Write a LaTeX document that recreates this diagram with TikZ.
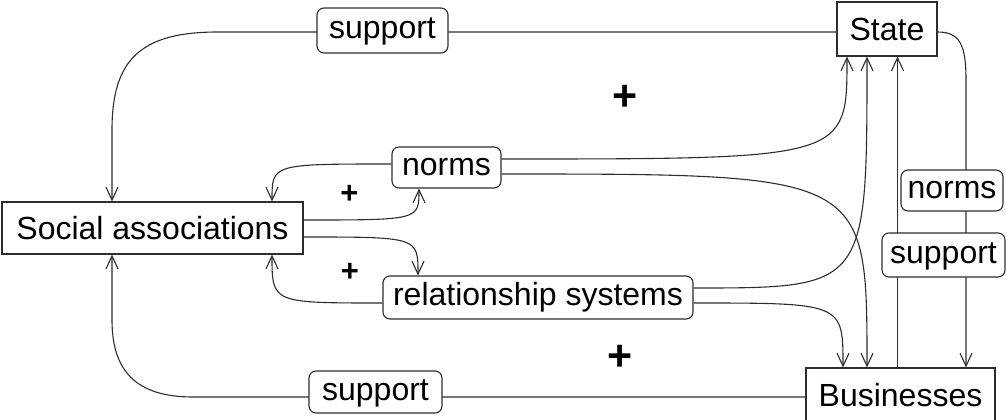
\documentclass[tikz,border=0pt]{standalone}
\usepackage{fontspec}
\setmainfont{Liberation Sans}
\usetikzlibrary{arrows.meta,backgrounds}

\definecolor{linec}{RGB}{45,45,45}

\tikzset{
  actor/.style={draw=linec, line width=1.1pt, fill=white, inner sep=0pt,
    font=\fontsize{32}{38}\selectfont, text height=23pt, text depth=0pt},
  flowlabel/.style={draw=linec, line width=1.1pt, fill=white, inner sep=0pt,
    rounded corners=7pt, font=\fontsize{32}{38}\selectfont,
    text height=16.6pt, text depth=0pt},
  sign/.style={inner sep=0pt, font=\fontsize{#1}{#1}\selectfont\bfseries},
  link/.style={draw=linec, line width=1.1pt},
  >={Straight Barb[length=13pt,width=12pt]}
}

\begin{document}
\begin{tikzpicture}[x=1pt,y=-1pt]
\useasboundingbox (0,0) rectangle (1006,420);

% actors
\node[actor, minimum width=100pt, minimum height=54pt] (state) at (887,29) {State};
\node[actor, minimum width=189pt, minimum height=54pt] (biz) at (900.5,395) {Businesses};
\node[actor, minimum width=301pt, minimum height=52pt] (soc) at (152.5,228) {Social associations};

% flow labels
\node[flowlabel, minimum width=131pt, minimum height=45pt] (supt) at (382.5,30.5) {support};
\node[flowlabel, minimum width=133pt, minimum height=42pt] (supb) at (375.5,392) {support};
\node[flowlabel, minimum width=109pt, minimum height=41pt] (normc) at (446.5,167.5) {norms};
\node[flowlabel, minimum width=310pt, minimum height=43pt] (rel) at (538,297.5) {relationship systems};
\node[flowlabel, minimum width=102pt, minimum height=41pt] (normr) at (952,190.5) {norms};
\node[flowlabel, minimum width=123pt, minimum height=44pt] (supr) at (943.5,255) {support};

% signs of the loops
\node[sign=43] (plusa) at (625,98) {+};
\node[sign=43] (plusb) at (620,357.5) {+};
\node[sign=31] (plusc) at (349.5,194.5) {+};
\node[sign=31] (plusd) at (350,272) {+};

\begin{pgfonlayer}{background}
  % support from the state and from businesses
  \draw[link,->] ([yshift=-3pt]state.west) -- (218,32)
     .. controls (140,32) and (112,60) .. (112,130) -- ([xshift=-40.5pt]soc.north);
  \draw[link,->] ([yshift=-2pt]biz.west) -- (193,397)
     .. controls (135,397) and (112,370) .. (112,320) -- ([xshift=-40.5pt]soc.south);

  % inner loops of social associations
  \draw[link,->] ([yshift=3.5pt]normc.west) .. controls (272,164) .. ([xshift=119.5pt]soc.north);
  \draw[link,->] ([yshift=8pt]soc.east) .. controls (419,220) .. ([xshift=-27.5pt]normc.south);
  \draw[link,->] ([yshift=-9pt]soc.east) .. controls (418,237) .. ([xshift=-120pt]rel.north);
  \draw[link,->] ([yshift=-5.5pt]rel.west) .. controls (272,303) .. ([xshift=119.5pt]soc.south);

  % norms and relationship systems towards state and businesses
  \draw[link,->] ([yshift=8.5pt]normc.east) .. controls (847,159) .. ([xshift=-40pt]state.south);
  \draw[link,->] ([yshift=-6.5pt]normc.east) .. controls (867,174) .. ([xshift=-33.5pt]biz.north);
  \draw[link,->] ([yshift=9.5pt]rel.east) .. controls (867,288) .. ([xshift=-20pt]state.south);
  \draw[link,->] ([yshift=-5.5pt]rel.east) .. controls (843,303) .. ([xshift=-57.5pt]biz.north);

  % exchanges between businesses and the state
  \draw[link,->] ([xshift=-3pt]biz.north) -- ([xshift=10.5pt]state.south);
  \draw[link,->] ([yshift=-3pt]state.east) .. controls (960,32) and (966,45) .. (966,80)
     -- ([xshift=65.5pt]biz.north);
\end{pgfonlayer}
\end{tikzpicture}
\end{document}
